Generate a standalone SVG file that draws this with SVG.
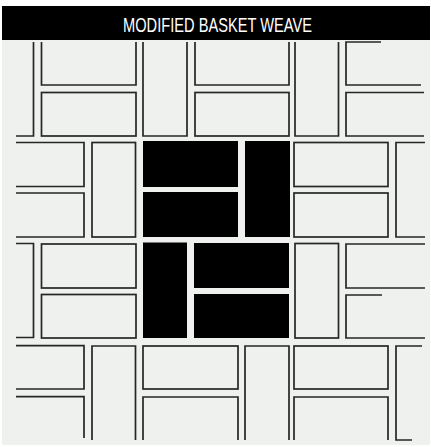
<svg xmlns="http://www.w3.org/2000/svg" width="431" height="447" viewBox="0 0 431 447">
<style>
.o{fill:none;stroke:#262626;stroke-width:1.7;stroke-linejoin:miter}
.k{fill:#000}
.t{font-family:"Liberation Sans",Arial,sans-serif;font-size:21px;fill:#fff}
</style>
<rect x="0" y="0" width="431" height="447" fill="#fff"/>
<rect x="2" y="6" width="428" height="439" fill="#eff1ef"/>
<g id="title">
<rect x="2" y="6" width="428" height="34" fill="#000"/>
<text class="t" x="217.5" y="31.5" text-anchor="middle" textLength="189" lengthAdjust="spacingAndGlyphs">MODIFIED BASKET WEAVE</text>
</g>
<g id="rowA">
<path id="a1" class="o" d="M16 136H33.5V42"/>
<g id="a2"><path class="o" d="M41.5 42V85H136V42"/><rect class="o" x="41.5" y="92.5" width="94.5" height="43.5"/></g>
<path id="a3" class="o" d="M143 42V136H187V42"/>
<g id="a4"><path class="o" d="M195 42V85H289V42"/><rect class="o" x="195" y="92.5" width="94" height="43.5"/></g>
<path id="a5" class="o" d="M295 42V136H338.5V42"/>
<g id="a6"><path class="o" d="M381 42H346V85H421"/><path class="o" d="M424 92.5H346V136H424"/></g>
</g>
<g id="rowB">
<g id="b1"><path class="o" d="M16 142.5H84V186.5H16"/><path class="o" d="M16 193H84V237H16"/></g>
<rect id="b2" class="o" x="92" y="142.5" width="43.5" height="94.5"/>
<g id="b3"><rect class="k" x="143" y="141" width="95" height="46"/><rect class="k" x="143" y="192" width="95" height="45"/></g>
<rect id="b4" class="k" x="245" y="141" width="45" height="96"/>
<g id="b5"><rect class="o" x="294" y="142.5" width="94" height="44"/><rect class="o" x="294" y="193" width="94" height="44"/></g>
<path id="b6" class="o" d="M425 142.5H396V237H425"/>
</g>
<g id="rowC">
<path id="c1" class="o" d="M16 243.5H33.5V337.5H16"/>
<g id="c2"><rect class="o" x="41.5" y="244" width="94.5" height="44"/><rect class="o" x="41.5" y="294.5" width="94.5" height="43.5"/></g>
<rect id="c3" class="k" x="143" y="242.5" width="44" height="95.5"/>
<g id="c4"><rect class="k" x="194" y="243" width="95" height="45"/><rect class="k" x="194" y="294" width="95" height="44"/></g>
<rect id="c5" class="o" x="295" y="243.5" width="43.5" height="94.5"/>
<g id="c6"><path class="o" d="M425 244H346V288H425"/><path class="o" d="M382 295H346V338H425"/></g>
</g>
<g id="rowD">
<g id="d1"><path class="o" d="M16 345.7H84V389H16"/><path class="o" d="M16 396.7H84V438"/></g>
<path id="d2" class="o" d="M92 440V346H135.5V440"/>
<g id="d3"><rect class="o" x="143" y="346" width="95" height="43"/><path class="o" d="M143 440V397H238V440"/></g>
<path id="d4" class="o" d="M245 440V346H289V440"/>
<g id="d5"><rect class="o" x="294" y="346" width="94" height="43"/><path class="o" d="M294 440V397H388V440"/></g>
<path id="d6" class="o" d="M422 346H396V440H412"/>
</g>
<g id="connectors"></g>
</svg>
